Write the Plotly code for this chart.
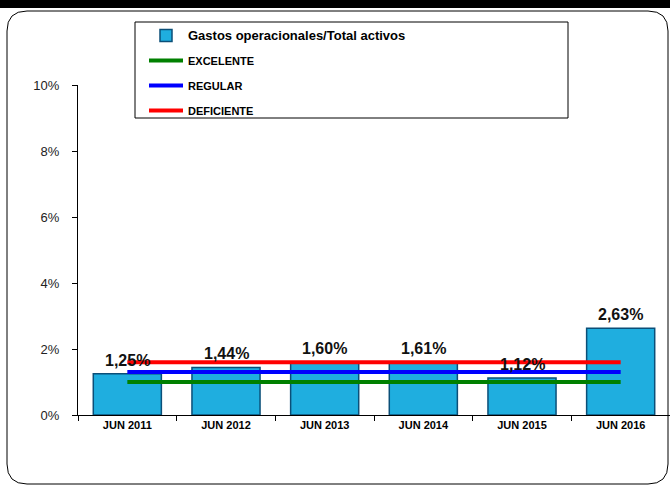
import plotly.graph_objects as go

categories = ["JUN 2011", "JUN 2012", "JUN 2013", "JUN 2014", "JUN 2015", "JUN 2016"]
gastos = [0.0125, 0.0144, 0.0160, 0.0161, 0.0112, 0.0263]
excelente = [0.0100] * 6
regular = [0.0130] * 6
deficiente = [0.0160] * 6

W, H = 670, 486
L, R, T, B = 78, 0, 85, 71
pw, ph = W - L - R, H - T - B


def px(x):
    return (x - L) / pw


def py(y):
    return (H - B - y) / ph


fig = go.Figure()
fig.add_trace(go.Bar(
    x=categories, y=gastos, width=0.69,
    name='<span style="font-size:13px"><b>Gastos operacionales/Total activos</b></span>',
    marker=dict(color="#1FAEDF", line=dict(color="#0B4F78", width=1.5)),
    legendgroup="a",
))
for name, vals, col in [("EXCELENTE", excelente, "#008000"),
                        ("REGULAR", regular, "#0000FF"),
                        ("DEFICIENTE", deficiente, "#FF0000")]:
    fig.add_trace(go.Scatter(
        x=categories, y=vals, mode="lines", name="<b>%s</b>" % name,
        line=dict(color=col, width=4), legendgroup=name,
    ))

for c, v in zip(categories, gastos):
    fig.add_annotation(x=c, y=v, text="<b>%s%%</b>" % ("%.2f" % (v * 100)).replace(".", ","),
                       showarrow=False, yanchor="bottom", yshift=3,
                       font=dict(family="Arial", size=16, color="#111"))

# border + top band
x0, x1, y0, y1 = px(7), px(668), py(484), py(11)
rx, ry = 20 / pw, 20 / ph
path = (f"M {x0+rx},{y1} L {x1-rx},{y1} Q {x1},{y1} {x1},{y1-ry} "
        f"L {x1},{y0+ry} Q {x1},{y0} {x1-rx},{y0} L {x0+rx},{y0} "
        f"Q {x0},{y0} {x0},{y0+ry} L {x0},{y1-ry} Q {x0},{y1} {x0+rx},{y1} Z")
fig.add_shape(type="path", path=path, xref="paper", yref="paper",
              line=dict(color="black", width=1), layer="below")
fig.add_shape(type="rect", xref="paper", yref="paper", x0=px(0), x1=px(670),
              y0=py(8), y1=py(0), fillcolor="black", line=dict(width=0))
fig.add_shape(type="rect", xref="paper", yref="paper", x0=px(135), x1=px(568),
              y0=py(118), y1=py(22), line=dict(color="black", width=1))

fig.update_layout(
    width=W, height=H, margin=dict(l=L, r=R, t=T, b=B),
    paper_bgcolor="white", plot_bgcolor="white",
    font=dict(family="Arial", color="black"),
    separators=",.",
    showlegend=True,
    legend=dict(x=px(144), y=py(21), xanchor="left", yanchor="top",
                bgcolor="rgba(0,0,0,0)", font=dict(size=11, family="Arial"),
                itemwidth=34, tracegroupgap=6, traceorder="grouped"),
    bargap=0.3,
)
fig.update_xaxes(showline=True, linecolor="black", linewidth=1, ticks="outside",
                 tickson="boundaries", ticklen=5, tickcolor="black",
                 tickfont=dict(size=11, family="Arial"), showgrid=False,
                 tickprefix="<b>", ticksuffix="</b>")
fig.update_yaxes(range=[0, 0.10], dtick=0.02, tickformat=".0%", showline=True,
                 linecolor="black", linewidth=1, ticks="outside", ticklen=5,
                 tickcolor="black", showgrid=False, zeroline=False,
                 tickfont=dict(size=13, family="Arial", color="#222"),
                 ticklabelstandoff=10)

fig.write_html("out.html", config={"displayModeBar": False},
               post_script="document.body.style.margin='0';")
